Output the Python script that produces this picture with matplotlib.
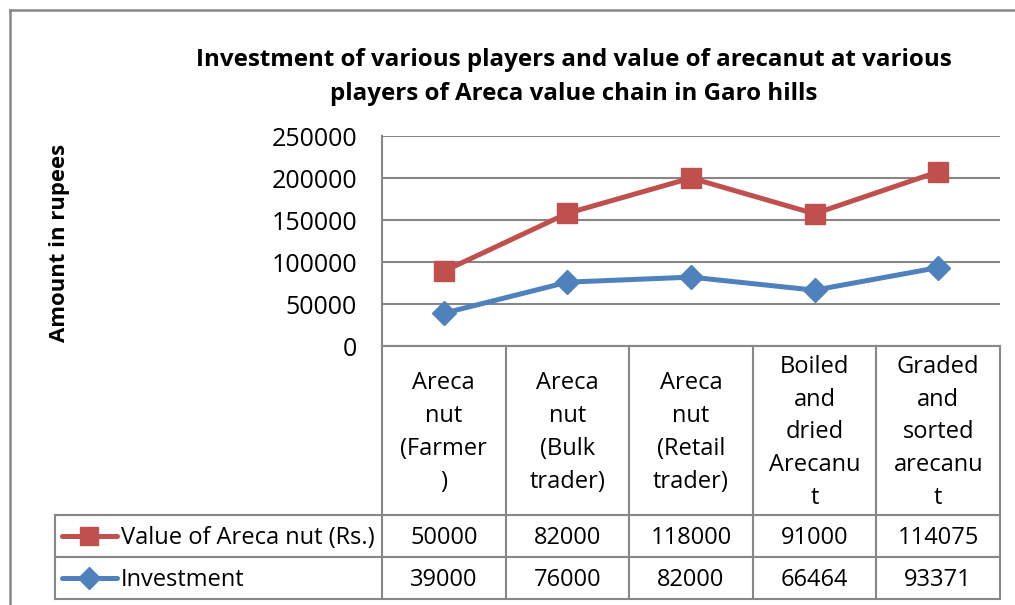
import matplotlib
matplotlib.use("Agg")
import matplotlib.pyplot as plt
from matplotlib.lines import Line2D
import numpy as np

categories = ["Areca\nnut\n(Farmer\n)", "Areca\nnut\n(Bulk\ntrader)", "Areca\nnut\n(Retail\ntrader)",
              "Boiled\nand\ndried\nArecanu\nt", "Graded\nand\nsorted\narecanu\nt"]
investment = [39000, 76000, 82000, 66464, 93371]
value_areca = [50000, 82000, 118000, 91000, 114075]
series_names = ["Value of Areca nut (Rs.)", "Investment"]
yticks = [0, 50000, 100000, 150000, 200000, 250000]
title = "Investment of various players and value of arecanut at various\nplayers of Areca value chain in Garo hills"
ylabel = "Amount in rupees"

RED = "#C0504D"
BLUE = "#4F81BD"
GRID = "#878787"
FONT = "Open Sans"

W, H = 1015, 605
fig = plt.figure(figsize=(W / 100, H / 100), dpi=100)

# overlay in pixel coords
ov = fig.add_axes([0, 0, 1, 1])
ov.set_xlim(0, W)
ov.set_ylim(H, 0)
ov.axis("off")

# plot area
px0, px1, py0, py1 = 382, 1000, 136, 346
ax = fig.add_axes([px0 / W, 1 - py1 / H, (px1 - px0) / W, (py1 - py0) / H])
n = len(categories)
x = np.arange(n)
stacked = np.array(investment) + np.array(value_areca)
ax.plot(x, investment, color=BLUE, lw=3.6, marker="D", ms=12, zorder=3)
ax.plot(x, stacked, color=RED, lw=3.6, marker="s", ms=14, zorder=3)
ax.set_xlim(-0.5, n - 0.5)
ax.set_ylim(0, 250000)
ax.set_yticks(yticks)
ax.set_yticklabels([str(t) for t in yticks], fontsize=18, family=FONT)
ax.set_xticks([])
ax.tick_params(axis="y", length=0, pad=18)
for s in ["top", "right", "bottom"]:
    ax.spines[s].set_visible(False)
ax.spines["left"].set_color(GRID)
ax.spines["left"].set_linewidth(1.5)
ax.yaxis.grid(True, color=GRID, lw=1.5)
ax.set_axisbelow(True)
ax.patch.set_alpha(0)

# outer frame
ov.plot([10, 10], [10, H], color=GRID, lw=1.8)
ov.plot([10, W], [10, 10], color=GRID, lw=1.8)

# title
ov.text(574, 77, title, ha="center", va="center", fontsize=17.4, fontweight="bold",
        family=FONT, linespacing=1.6)
# y label
ov.text(60, 243, ylabel, ha="center", va="center", rotation=90, fontsize=15.9,
        fontweight="bold", family=FONT)

# table
colw = (px1 - px0) / n
col_edges = [px0 + i * colw for i in range(n + 1)]
r0, r1, r2, r3 = 346, 515, 557, 599
lx = 55
lk = dict(color=GRID, lw=1.5)
ov.plot([px0, px1], [r0, r0], **lk)
for yy in [r1, r2, r3]:
    ov.plot([lx, px1], [yy, yy], **lk)
ov.plot([lx, lx], [r1, r3], **lk)
for xe in col_edges:
    ov.plot([xe, xe], [r0, r3], **lk)

tfs = 17
for i, c in enumerate(categories):
    cx = col_edges[i] + colw / 2
    ov.text(cx, (r0 + r1) / 2 + 2, c, ha="center", va="center", fontsize=tfs, family=FONT,
            linespacing=1.49)
rows = [(series_names[0], value_areca, RED, "s", 13), (series_names[1], investment, BLUE, "D", 11)]
for j, (name, vals, col, mk, ms) in enumerate(rows):
    ry = [r1, r2][j]
    cy = ry + (r2 - r1) / 2
    ov.add_line(Line2D([62, 89, 117], [cy, cy, cy], color=col, lw=3.6, marker=mk, ms=ms,
                       markevery=[1], solid_capstyle="round"))
    ov.text(121, cy + 2, name, ha="left", va="center", fontsize=tfs, family=FONT)
    for i, v in enumerate(vals):
        cx = col_edges[i] + colw / 2
        ov.text(cx, cy + 2, str(v), ha="center", va="center", fontsize=tfs, family=FONT)

fig.savefig("out.png", dpi=100)
